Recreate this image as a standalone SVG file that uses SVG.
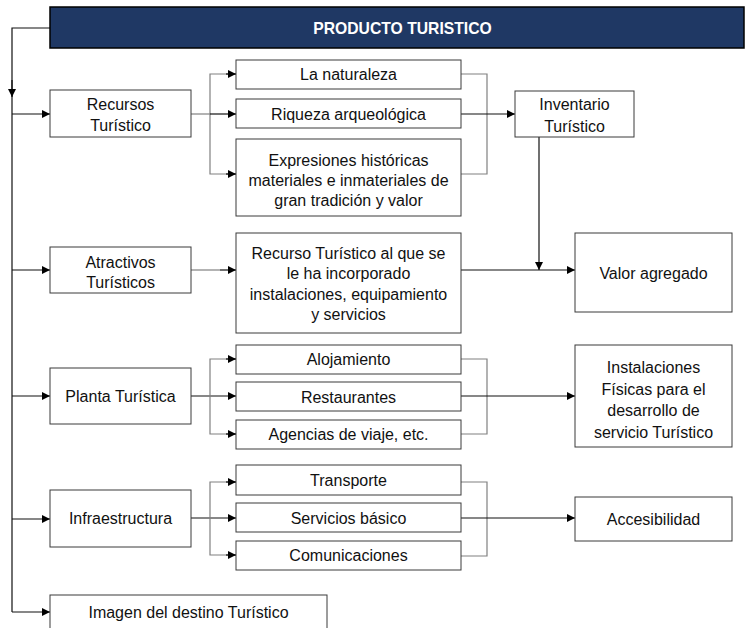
<svg xmlns="http://www.w3.org/2000/svg" width="745" height="628" viewBox="0 0 745 628">
<style>
.box{fill:#fff;stroke:#3a3a3a;stroke-width:1}
.t{font-family:"Liberation Sans",Arial,sans-serif;font-size:16px;fill:#111;text-anchor:middle}
.h{font-family:"Liberation Sans",Arial,sans-serif;font-size:15.7px;font-weight:bold;fill:#fff;text-anchor:middle}
.c{fill:none;stroke:#111;stroke-width:1.2}
.g{fill:none;stroke:#808080;stroke-width:1.2}
</style>
<defs>
<marker id="a" markerUnits="userSpaceOnUse" markerWidth="8" markerHeight="8" refX="8" refY="4" orient="auto">
<path d="M0,0 L8,4 L0,8 z" fill="#000"/>
</marker>
</defs>
<rect width="745" height="628" fill="#fff"/>
<g id="connectors">
<path class="c" d="M50,28 H12 V612"/>
<path class="c" d="M12,80 V97" marker-end="url(#a)"/>
<path class="c" d="M12,114 H50" marker-end="url(#a)"/>
<path class="c" d="M12,270 H50" marker-end="url(#a)"/>
<path class="c" d="M12,396 H50" marker-end="url(#a)"/>
<path class="c" d="M12,519 H50" marker-end="url(#a)"/>
<path class="c" d="M12,612 H50" marker-end="url(#a)"/>
<!-- Recursos branch -->
<path class="g" d="M191,114 H210"/>
<path class="g" d="M236,74 H210 V174 H236"/>
<path class="c" d="M226,74 H236" marker-end="url(#a)"/>
<path class="c" d="M210,114 H236" marker-end="url(#a)"/>
<path class="c" d="M226,174 H236" marker-end="url(#a)"/>
<path class="g" d="M461,74 H487 V174 H461"/>
<path class="c" d="M461,114 H515" marker-end="url(#a)"/>
<path class="c" d="M539,137 V270" marker-end="url(#a)"/>
<!-- Atractivos -->
<path class="g" d="M191,270 H220"/>
<path class="c" d="M220,270 H236" marker-end="url(#a)"/>
<path class="c" d="M461,270 H575" marker-end="url(#a)"/>
<!-- Planta -->
<path class="c" d="M191,396 H236" marker-end="url(#a)"/>
<path class="g" d="M236,359 H210 V434 H236"/>
<path class="c" d="M226,359 H236" marker-end="url(#a)"/>
<path class="c" d="M226,434 H236" marker-end="url(#a)"/>
<path class="g" d="M461,359 H487 V434 H461"/>
<path class="c" d="M461,396 H575" marker-end="url(#a)"/>
<!-- Infraestructura -->
<path class="c" d="M191,518 H236" marker-end="url(#a)"/>
<path class="g" d="M236,482 H210 V555 H236"/>
<path class="c" d="M226,482 H236" marker-end="url(#a)"/>
<path class="c" d="M226,555 H236" marker-end="url(#a)"/>
<path class="g" d="M461,482 H487 V556 H461"/>
<path class="c" d="M461,518 H575" marker-end="url(#a)"/>
</g>
<g id="header">
<rect x="50" y="7" width="694" height="41" fill="#1f3864" stroke="#000" stroke-width="1.5"/>
<text class="h" x="402.5" y="33.5">PRODUCTO TURISTICO</text>
</g>
<g id="recursos">
<rect class="box" x="50" y="90" width="141" height="47"/>
<text class="t" x="120.5" y="110">Recursos</text>
<text class="t" x="120.5" y="131">Turístico</text>
</g>
<g id="naturaleza">
<rect class="box" x="236" y="60" width="225" height="29"/>
<text class="t" x="348.5" y="80">La naturaleza</text>
</g>
<g id="riqueza">
<rect class="box" x="236" y="99" width="225" height="29"/>
<text class="t" x="348.5" y="119.5">Riqueza arqueológica</text>
</g>
<g id="expresiones">
<rect class="box" x="236" y="139" width="225" height="77"/>
<text class="t" x="348.5" y="166">Expresiones históricas</text>
<text class="t" x="348.5" y="186">materiales e inmateriales de</text>
<text class="t" x="348.5" y="206">gran tradición y valor</text>
</g>
<g id="inventario">
<rect class="box" x="515" y="91" width="119" height="46"/>
<text class="t" x="574.5" y="110">Inventario</text>
<text class="t" x="574.5" y="132">Turístico</text>
</g>
<g id="atractivos">
<rect class="box" x="50" y="247" width="141" height="46"/>
<text class="t" x="120.5" y="267.5">Atractivos</text>
<text class="t" x="120.5" y="288">Turísticos</text>
</g>
<g id="recurso-incorporado">
<rect class="box" x="236" y="233" width="225" height="100"/>
<text class="t" x="348.5" y="259">Recurso Turístico al que se</text>
<text class="t" x="348.5" y="279">le ha incorporado</text>
<text class="t" x="348.5" y="300">instalaciones, equipamiento</text>
<text class="t" x="348.5" y="320">y servicios</text>
</g>
<g id="valor">
<rect class="box" x="575" y="233" width="157" height="79"/>
<text class="t" x="653.5" y="278.5">Valor agregado</text>
</g>
<g id="planta">
<rect class="box" x="50" y="368" width="141" height="56"/>
<text class="t" x="120.5" y="401.5">Planta Turística</text>
</g>
<g id="alojamiento">
<rect class="box" x="236" y="345" width="225" height="29"/>
<text class="t" x="348.5" y="365">Alojamiento</text>
</g>
<g id="restaurantes">
<rect class="box" x="236" y="382" width="225" height="29"/>
<text class="t" x="348.5" y="402.5">Restaurantes</text>
</g>
<g id="agencias">
<rect class="box" x="236" y="420" width="225" height="29"/>
<text class="t" x="348.5" y="440">Agencias de viaje, etc.</text>
</g>
<g id="instalaciones">
<rect class="box" x="575" y="345" width="157" height="102"/>
<text class="t" x="653.5" y="373">Instalaciones</text>
<text class="t" x="653.5" y="394.5">Físicas para el</text>
<text class="t" x="653.5" y="416">desarrollo de</text>
<text class="t" x="653.5" y="437.5">servicio Turístico</text>
</g>
<g id="infraestructura">
<rect class="box" x="50" y="490" width="141" height="57"/>
<text class="t" x="120.5" y="524">Infraestructura</text>
</g>
<g id="transporte">
<rect class="box" x="236" y="465" width="225" height="30"/>
<text class="t" x="348.5" y="486">Transporte</text>
</g>
<g id="servicios">
<rect class="box" x="236" y="503" width="225" height="29"/>
<text class="t" x="348.5" y="523.5">Servicios básico</text>
</g>
<g id="comunicaciones">
<rect class="box" x="236" y="541" width="225" height="29"/>
<text class="t" x="348.5" y="561">Comunicaciones</text>
</g>
<g id="accesibilidad">
<rect class="box" x="575" y="497" width="157" height="44"/>
<text class="t" x="653.5" y="525">Accesibilidad</text>
</g>
<g id="imagen">
<rect class="box" x="50" y="595" width="277" height="40"/>
<text class="t" x="188.5" y="618">Imagen del destino Turístico</text>
</g>
</svg>
